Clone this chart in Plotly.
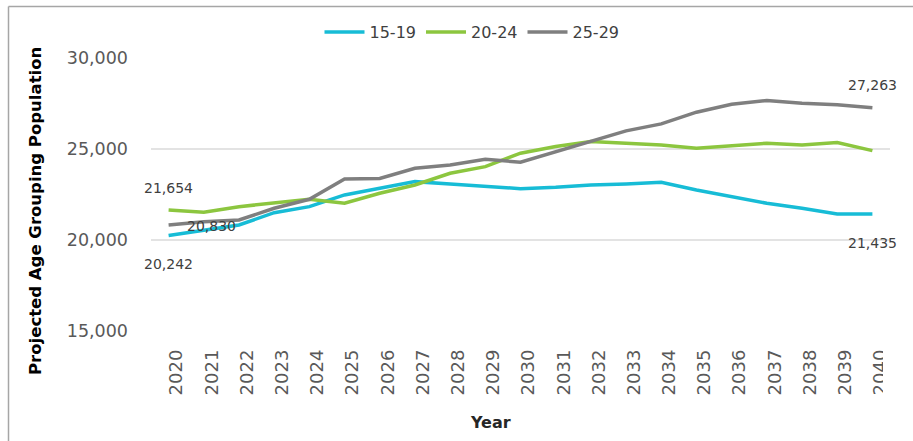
import plotly.graph_objects as go

# Projection years and population by age group
years = list(range(2020, 2041))
age_15_19 = [20242, 20512, 20825, 21500, 21832, 22475, 22843, 23207, 23080, 22970,
             22822, 22897, 23025, 23080, 23173, 22750, 22382, 22018, 21743, 21430, 21435]
age_20_24 = [21654, 21523, 21832, 22018, 22238, 22018, 22568, 23025, 23668, 24032,
             24768, 25132, 25408, 25318, 25225, 25043, 25170, 25318, 25225, 25352, 24912]
age_25_29 = [20830, 21007, 21100, 21743, 22238, 23355, 23380, 23942, 24125, 24438,
             24273, 24857, 25445, 25995, 26380, 27023, 27463, 27662, 27518, 27425, 27263]

series = [
    ("15-19", age_15_19, "#17BCD6"),
    ("20-24", age_20_24, "#8CC63F"),
    ("25-29", age_25_29, "#7F7F7F"),
]

FONT = "DejaVu Sans"

fig = go.Figure()
for name, vals, color in series:
    fig.add_trace(go.Scatter(x=years, y=vals, name=name, mode="lines",
                             line=dict(color=color, width=3.5)))

label_font = dict(family=FONT, size=14, color="#404040")

def value_label(x, y, xshift=0, yshift=0):
    fig.add_annotation(x=x, y=y, text=f"{y:,}", showarrow=False,
                       xanchor="center", yanchor="middle",
                       xshift=xshift, yshift=yshift, font=label_font)

value_label(years[0], age_20_24[0], yshift=22)
value_label(years[0], age_25_29[0], xshift=43, yshift=-1)
value_label(years[0], age_15_19[0], yshift=-28)
value_label(years[-1], age_25_29[-1], yshift=23)
value_label(years[-1], age_15_19[-1], yshift=-29)

# plot area spans px 151..890 horizontally and 58..331 vertically
L, R, T, B = 151, 23, 58, 110
W, H = 913, 441
pw, ph = W - L - R, H - T - B

def px(x):
    return (x - L) / pw

def py(y):
    return (H - B - y) / ph

# chart frame (top and left edges)
frame = dict(color="#A6A6A6", width=1.5)
fig.add_shape(type="line", xref="paper", yref="paper",
              x0=px(8.5), x1=px(913), y0=py(6.5), y1=py(6.5), line=frame)
fig.add_shape(type="line", xref="paper", yref="paper",
              x0=px(8.5), x1=px(8.5), y0=py(6.5), y1=py(441), line=frame)

# the final category label runs past the chart edge and is cut off there:
# a blank white box drawn over its right part
fig.add_annotation(xref="paper", yref="paper", x=px(883), y=py(345),
                   xanchor="left", yanchor="top", text=" ", showarrow=False,
                   width=22, height=62, bgcolor="white", borderpad=0, borderwidth=0,
                   font=dict(size=2))

fig.add_annotation(xref="paper", yref="paper", x=px(35), y=py(211),
                   xanchor="center", yanchor="middle",
                   text="<b>Projected Age Grouping Population</b>", textangle=-90,
                   showarrow=False, font=dict(family=FONT, size=16.5, color="#000000"))
fig.add_annotation(xref="paper", yref="paper", x=px(490), y=py(422),
                   xanchor="center", yanchor="middle",
                   text="<b>Year</b>", showarrow=False,
                   font=dict(family=FONT, size=16, color="#262626"))

fig.update_layout(
    width=W, height=H,
    margin=dict(l=L, r=R, t=T, b=B),
    paper_bgcolor="white", plot_bgcolor="white",
    showlegend=True,
    legend=dict(orientation="h", x=px(472), xanchor="center", y=py(32), yanchor="middle",
                font=dict(family=FONT, size=16, color="#404040"),
                itemwidth=40, tracegroupgap=0, bgcolor="rgba(0,0,0,0)"),
    xaxis=dict(range=[2019.5, 2040.5], tickmode="array", tickvals=years,
               ticktext=[str(y) for y in years], tickangle=-90,
               showgrid=False, zeroline=False, showline=False,
               ticklabelstandoff=14, ticklabelshift=8,
               tickfont=dict(family=FONT, size=18, color="#595959")),
    yaxis=dict(range=[15000, 30000], tickvals=[15000, 20000, 25000, 30000],
               tickformat=",d", showgrid=True, gridcolor="#E3E3E3", gridwidth=1.5,
               zeroline=False, showline=False, ticklabelstandoff=22,
               tickfont=dict(family=FONT, size=17.5, color="#595959")),
)

fig.write_html("out.html")
